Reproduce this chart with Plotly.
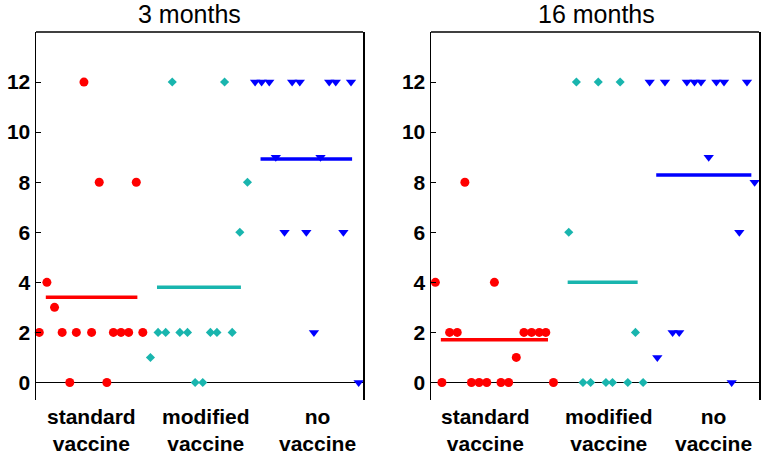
import plotly.graph_objects as go

# ---------------- data ----------------
panel_titles = ["3 months", "16 months"]
group_labels = ["standard<br>vaccine", "modified<br>vaccine", "no<br>vaccine"]
y_ticks = [0, 2, 4, 6, 8, 10, 12]

# panel 1 (3 months): jittered x position within 0..3 and value
p1_std_x = [0.44, 0.58, 0.92, 0.10, 0.17, 0.03, 0.24, 0.37, 0.51, 0.71, 0.78, 0.85, 0.98, 0.31, 0.65]
p1_std_y = [12, 8, 8, 4, 3, 2, 2, 2, 2, 2, 2, 2, 2, 0, 0]
p1_mod_x = [1.25, 1.73, 1.94, 1.87, 1.12, 1.19, 1.32, 1.39, 1.60, 1.66, 1.80, 1.05, 1.46, 1.53]
p1_mod_y = [12, 12, 8, 6, 2, 2, 2, 2, 2, 2, 2, 1, 0, 0]
p1_no_x = [2.01, 2.07, 2.14, 2.35, 2.42, 2.69, 2.75, 2.89, 2.20, 2.61, 2.28, 2.48, 2.82, 2.55, 2.96]
p1_no_y = [12, 12, 12, 12, 12, 12, 12, 12, 9, 9, 6, 6, 6, 2, 0]
p1_means = [3.4, 3.8, 8.93]
p1_mean_start = [0.09, 1.11, 2.06]
p1_mean_end = [0.93, 1.88, 2.90]

# panel 2 (16 months)
p2_std_x = [0.04, 0.58, 0.31, 0.17, 0.24, 0.85, 0.92, 0.99, 1.05, 0.78, 0.10, 0.37, 0.44, 0.51, 0.64, 0.71, 1.12]
p2_std_y = [4, 4, 8, 2, 2, 2, 2, 2, 2, 1, 0, 0, 0, 0, 0, 0, 0]
p2_mod_x = [1.33, 1.53, 1.73, 1.26, 1.87, 1.39, 1.46, 1.60, 1.66, 1.80, 1.94]
p2_mod_y = [12, 12, 12, 6, 2, 0, 0, 0, 0, 0, 0]
p2_no_x = [2.00, 2.14, 2.34, 2.41, 2.47, 2.61, 2.68, 2.89, 2.54, 2.96, 2.82, 2.21, 2.27, 2.07, 2.75]
p2_no_y = [12, 12, 12, 12, 12, 12, 12, 12, 9, 8, 6, 2, 2, 1, 0]
p2_means = [1.71, 4.0, 8.29]
p2_mean_start = [0.09, 1.25, 2.06]
p2_mean_end = [1.07, 1.89, 2.93]

label_pos_p1 = [0.505, 1.56, 2.58]
label_pos_p2 = [0.50, 1.63, 2.58]

# ---------------- style ----------------
RED = "#FF0000"
TEAL = "#19B5AE"
BLUE = "#0000FF"
W, H = 762, 455
FONT = "Liberation Sans, Arial, sans-serif"

fig = go.Figure()

def add_panel(xa, ya, groups, means, starts, ends):
    colors = [RED, TEAL, BLUE]
    symbols = ["circle", "diamond", "triangle-down"]
    sizes = [9, 7, 9]
    for (gx, gy), c, s, sz in zip(groups, colors, symbols, sizes):
        fig.add_trace(go.Scatter(x=gx, y=gy, mode="markers", xaxis=xa, yaxis=ya,
                                 marker=dict(color=c, symbol=s, size=sz, line=dict(width=0)),
                                 cliponaxis=False, showlegend=False, hoverinfo="x+y"))
    for m, a, b, c in zip(means, starts, ends, colors):
        fig.add_trace(go.Scatter(x=[a, b], y=[m, m], mode="lines", xaxis=xa, yaxis=ya,
                                 line=dict(color=c, width=3.5), showlegend=False,
                                 cliponaxis=False))

add_panel("x", "y", [(p1_std_x, p1_std_y), (p1_mod_x, p1_mod_y), (p1_no_x, p1_no_y)],
          p1_means, p1_mean_start, p1_mean_end)
add_panel("x2", "y2", [(p2_std_x, p2_std_y), (p2_mod_x, p2_mod_y), (p2_no_x, p2_no_y)],
          p2_means, p2_mean_start, p2_mean_end)

ytop = 1 - 32 / H
ybot = 1 - 400 / H
dom1 = [36 / W, 363 / W]
dom2 = [431 / W, 759 / W]

xcommon = dict(range=[0, 3], showgrid=False, zeroline=False, showline=False,
               showticklabels=False, ticks="", fixedrange=True)
ycommon = dict(range=[-0.7, 14], showgrid=False, zeroline=True, zerolinecolor="black",
               zerolinewidth=1.5, showline=True, linecolor="black", linewidth=1.5,
               mirror=True, ticks="inside", ticklen=5, tickcolor="black", tickwidth=1,
               tickvals=y_ticks, ticktext=[str(v) for v in y_ticks],
               tickfont=dict(family=FONT, size=21, color="black", weight="bold"),
               domain=[ybot, ytop], fixedrange=True)

fig.update_layout(
    width=W, height=H,
    margin=dict(l=0, r=0, t=0, b=0),
    paper_bgcolor="white", plot_bgcolor="white",
    xaxis=dict(domain=dom1, anchor="y", **xcommon),
    xaxis2=dict(domain=dom2, anchor="y2", **xcommon),
    yaxis=dict(anchor="x", **ycommon),
    yaxis2=dict(anchor="x2", **ycommon),
)

# top border of each panel
for xr, yr in [("x domain", "y domain"), ("x2 domain", "y2 domain")]:
    fig.add_shape(type="line", xref=xr, yref=yr, x0=0, x1=1, y0=1, y1=1,
                  line=dict(color="black", width=1.5))

# titles
for t, cx in zip(panel_titles, [189, 596]):
    fig.add_annotation(text=t, x=cx / W, y=1 - 14 / H, xref="paper", yref="paper",
                       showarrow=False, font=dict(family=FONT, size=25, color="black"),
                       xanchor="center", yanchor="middle")

# category labels
for xa, positions in [("x", label_pos_p1), ("x2", label_pos_p2)]:
    for lab, px in zip(group_labels, positions):
        fig.add_annotation(text=lab, x=px, xref=xa, y=1 - 430 / H, yref="paper",
                           showarrow=False, xanchor="center", yanchor="middle",
                           font=dict(family=FONT, size=21, color="black", weight="bold"))

fig.write_html("out.html", config={"displayModeBar": False, "staticPlot": True},
               post_script="document.body.style.margin='0px';document.body.style.overflow='hidden';")
